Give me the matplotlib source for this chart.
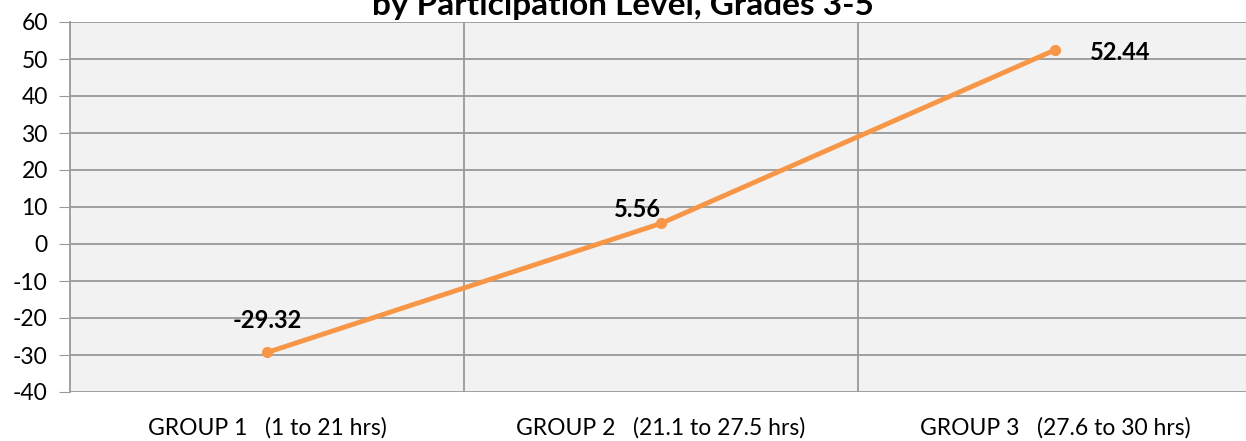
import matplotlib
matplotlib.use('Agg')
import matplotlib.pyplot as plt

# dados do grafico
grupos = ['GROUP 1   (1 to 21 hrs)', 'GROUP 2   (21.1 to 27.5 hrs)', 'GROUP 3   (27.6 to 30 hrs)']
valores = [-29.32, 5.56, 52.44]
rotulos = ['-29.32', '5.56', '52.44']
yticks = [-40, -30, -20, -10, 0, 10, 20, 30, 40, 50, 60]

plt.rcParams['font.family'] = ['Lato', 'DejaVu Sans']

fig = plt.figure(figsize=(12.46, 4.41), dpi=100)
ax = fig.add_axes([70/1246, 1 - 392/441, 1182/1246, 370/441])
ax.set_facecolor('#f2f2f2')

x = list(range(len(grupos)))
ax.plot(x, valores, color='#f79646', lw=3.5, marker='o', ms=7, zorder=3)

ax.set_xlim(-0.5, 2.5)
ax.set_ylim(-40, 60)
ax.set_yticks(yticks)
ax.set_yticklabels([str(v) for v in yticks], fontsize=16.5)
ax.set_xticks(x)
ax.set_xticklabels(grupos, fontsize=16.5)
ax.tick_params(axis='x', length=0, pad=18)
ax.tick_params(axis='y', length=8, color='#999999', pad=8)

# linhas de grade
for v in yticks:
    ax.axhline(v, color='#999999', lw=1.3, zorder=1)
for xv in [0.5, 1.5]:
    ax.axvline(xv, color='#999999', lw=1.3, zorder=1)

for s in ['top', 'right', 'bottom']:
    ax.spines[s].set_visible(False)
ax.spines['left'].set_color('#999999')
ax.spines['left'].set_linewidth(1.3)

# rotulos dos pontos
offs = [(0, 15), (-17, 2), (47, -10)]
for i in range(len(valores)):
    ax.annotate(rotulos[i], (x[i], valores[i]), xytext=offs[i], textcoords='offset points',
                ha='center', va='bottom', fontsize=17, fontweight='bold')

# titulo (cortado no topo como no original)
fig.text(0.5, 1.0 + 9/441, 'by Participation Level, Grades 3-5', ha='center', va='top',
         fontsize=24, fontweight='bold')

plt.savefig('out.png', dpi=100)
